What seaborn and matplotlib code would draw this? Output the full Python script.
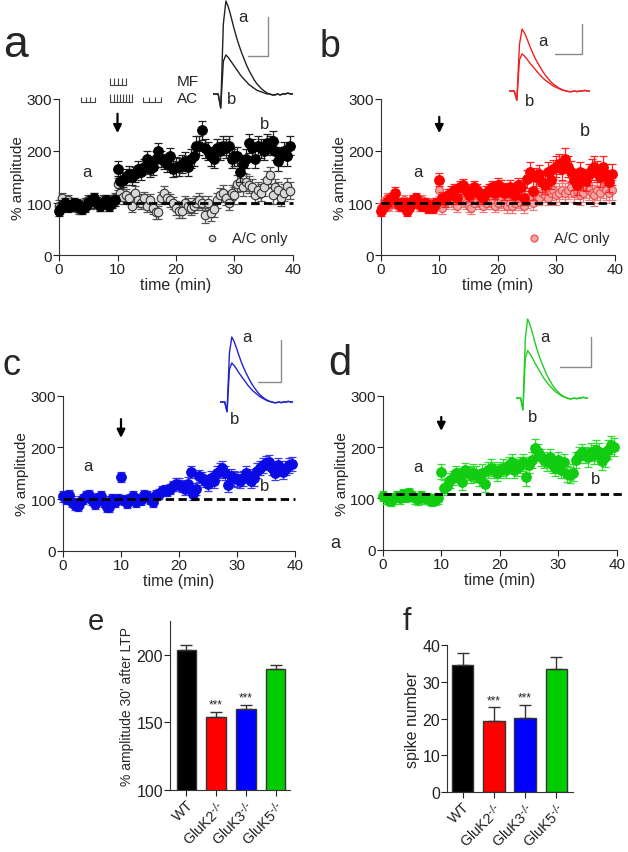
import numpy as np
import matplotlib
matplotlib.use("Agg")
import matplotlib.pyplot as plt
from matplotlib.lines import Line2D
import seaborn as sns

# time points (min)
minutes = [0.0, 0.5, 1.0, 1.5, 2.0, 2.5, 3.0, 3.5, 4.0, 4.5,
           5.0, 5.5, 6.0, 6.5, 7.0, 7.5, 8.0, 8.5, 9.0, 9.5,
           10.0, 10.5, 11.0, 11.5, 12.0, 12.5, 13.0, 13.5, 14.0, 14.5,
           15.0, 15.5, 16.0, 16.5, 17.0, 17.5, 18.0, 18.5, 19.0, 19.5,
           20.0, 20.5, 21.0, 21.5, 22.0, 22.5, 23.0, 23.5, 24.0, 24.5,
           25.0, 25.5, 26.0, 26.5, 27.0, 27.5, 28.0, 28.5, 29.0, 29.5,
           30.0, 30.5, 31.0, 31.5, 32.0, 32.5, 33.0, 33.5, 34.0, 34.5,
           35.0, 35.5, 36.0, 36.5, 37.0, 37.5, 38.0, 38.5, 39.0, 39.5]

# panel a: WT, MF+AC pairing vs A/C only
wt_mf = [85, 95, 100, 92, 95, 100, 98, 93, 88, 92, 100, 105, 110, 100, 95, 100, 105, 95, 100, 105,
         166, 143, 145, 150, 156, 150, 155, 165, 160, 170, 185, 165, 169, 185, 200, 185, 180, 175, 190, 165,
         170, 169, 175, 180, 170, 185, 190, 210, 210, 240, 205, 200, 190, 185, 205, 200, 210, 205, 210, 185,
         190, 190, 159, 175, 185, 215, 205, 185, 210, 205, 200, 215, 210, 220, 200, 180, 190, 200, 190, 210]
wt_ac = [95, 110, 100, 105, 95, 100, 92, 88, 95, 100, 105, 98, 110, 100, 95, 105, 100, 95, 105, 110,
         137, 120, 111, 115, 110, 95, 120, 105, 100, 110, 95, 105, 90, 82, 82, 110, 120, 110, 105, 100,
         90, 85, 85, 100, 95, 90, 95, 100, 105, 100, 76, 100, 80, 88, 105, 115, 120, 110, 100, 120,
         115, 137, 140, 130, 140, 135, 130, 115, 125, 120, 130, 145, 153, 115, 130, 125, 110, 120, 133, 124]
wt_mf_sem = [10, 10, 15, 15, 18, 18, 18, 18]
wt_ac_sem = [10, 10, 12, 12, 14, 14, 16, 16]

# panel b: GluK2-/-
k2_mf = [85, 95, 100, 105, 110, 120, 100, 95, 100, 85, 95, 105, 110, 100, 95, 100, 90, 95, 90, 100,
         145, 110, 105, 115, 120, 125, 110, 130, 135, 125, 115, 120, 130, 125, 115, 110, 120, 125, 130, 120,
         135, 130, 120, 125, 130, 120, 115, 135, 130, 110, 146, 160, 124, 150, 155, 140, 135, 160, 145, 165,
         170, 175, 165, 185, 170, 160, 145, 135, 159, 145, 143, 155, 165, 170, 160, 150, 170, 155, 141, 155]
k2_ac = [90, 100, 110, 95, 100, 105, 95, 100, 105, 95, 100, 105, 100, 95, 105, 100, 95, 100, 95, 100,
         125, 90, 100, 105, 110, 100, 95, 105, 110, 100, 95, 90, 100, 105, 100, 95, 100, 105, 100, 95,
         100, 105, 100, 95, 100, 95, 100, 105, 100, 95, 105, 110, 100, 115, 110, 120, 115, 110, 120, 125,
         115, 120, 125, 120, 125, 130, 120, 125, 115, 120, 130, 125, 120, 115, 125, 120, 130, 125, 120, 125]
k2_mf_sem = [10, 10, 12, 12, 14, 18, 20, 20]
k2_ac_sem = [10, 10, 12, 12, 14, 14, 18, 20]

# panel c: GluK3-/-
k3_mf = [105, 100, 108, 95, 88, 87, 95, 100, 105, 108, 98, 90, 102, 105, 95, 85, 84, 100, 95, 100,
         143, 98, 92, 100, 105, 95, 100, 98, 108, 105, 100, 95, 108, 110, 115, 118, 115, 120, 125, 130,
         128, 125, 120, 130, 152, 110, 120, 145, 140, 135, 130, 140, 135, 150, 155, 160, 150, 128, 145, 140,
         138, 135, 140, 150, 145, 135, 140, 155, 160, 165, 170, 172, 160, 150, 165, 160, 152, 160, 165, 168]
k3_mf_sem = [10, 10, 10, 10, 12, 14, 14, 14]

# panel d: GluK5-/-
k5_mf = [105, 100, 97, 95, 100, 105, 100, 108, 102, 110, 105, 100, 98, 105, 100, 100, 98, 95, 97, 100,
         152, 121, 125, 135, 140, 150, 145, 131, 155, 150, 145, 150, 148, 140, 150, 128, 155, 160, 155, 150,
         155, 160, 155, 165, 170, 155, 160, 165, 170, 141, 165, 175, 199, 190, 180, 175, 170, 180, 165, 160,
         175, 155, 170, 147, 145, 150, 175, 185, 190, 185, 180, 190, 185, 195, 190, 173, 180, 195, 204, 200]
k5_mf_sem = [10, 10, 14, 16, 16, 16, 16, 18]

# example EPSC traces (normalised)
trace_before = [0, 0, 0, -0.15, 0.75, 1.0, 0.93, 0.83, 0.72, 0.62, 0.53, 0.45, 0.38, 0.31, 0.25, 0.2,
                0.15, 0.11, 0.08, 0.05, 0.03, 0.01, 0.0, -0.01, -0.01, 0.0, -0.01, 0.0, 0.0, 0.01, 0.0, 0.0]
trace_after_wt = [0, 0, 0, -0.15, 0.35, 0.42, 0.39, 0.35, 0.31, 0.27, 0.23, 0.19, 0.16, 0.13, 0.1, 0.08,
                  0.06, 0.04, 0.03, 0.02, 0.01, 0.0, 0.0, -0.01, -0.01, 0.0, -0.01, 0.0, 0.0, 0.01, 0.0, 0.0]
trace_after_ko = [0, 0, 0, -0.15, 0.5, 0.6, 0.56, 0.51, 0.45, 0.4, 0.35, 0.3, 0.25, 0.21, 0.17, 0.14,
                  0.11, 0.08, 0.06, 0.04, 0.02, 0.01, 0.0, -0.01, -0.01, 0.0, -0.01, 0.0, 0.0, 0.01, 0.0, 0.0]

# bar panels e, f
genotypes = ["WT", r"GluK2$^{\text{-/-}}$", r"GluK3$^{\text{-/-}}$", r"GluK5$^{\text{-/-}}$"]
bar_colors = ["#000000", "#ff0000", "#0000ff", "#00cc00"]
ltp_30 = [203, 154, 160, 189]
ltp_30_sem = [4, 3.5, 2.5, 3.5]
spikes = [34.5, 19.3, 20.1, 33.6]
spikes_sem = [3.2, 3.7, 3.7, 3.0]
signif = ["", "***", "***", ""]

sns.set_style("ticks")
plt.rcParams["font.family"] = ["Liberation Sans", "DejaVu Sans"]
plt.rcParams["axes.edgecolor"] = "#333333"
plt.rcParams["mathtext.default"] = "regular"

W, H = 628, 853
fig = plt.figure(figsize=(6.28, 8.53), dpi=100)


def box(left, top, right, bottom):
    return [left / W, 1 - bottom / H, (right - left) / W, (bottom - top) / H]


def fig_line(xs, ys, color="#8a8a8a", lw=1.0):
    fig.add_artist(Line2D([x / W for x in xs], [1 - y / H for y in ys], color=color, lw=lw))


def fig_text(x, y, s, size=11, **kw):
    fig.text(x / W, 1 - y / H, s, fontsize=size, ha="center", va="center", **kw)


def setup_course(ax, baseline=100, dash_end=40):
    ax.set_xlim(0, 40)
    ax.set_ylim(0, 300)
    ax.set_xticks([0, 10, 20, 30, 40])
    ax.set_yticks([0, 100, 200, 300])
    ax.set_xlabel("time (min)", fontsize=11.5, labelpad=1)
    ax.set_ylabel("% amplitude", fontsize=11, labelpad=1)
    ax.tick_params(length=4, width=0.8, labelsize=11, pad=1, colors="#222222")
    sns.despine(ax=ax)
    ax.plot([0, dash_end], [baseline, baseline], color="k", lw=2, ls=(0, (3, 1.6)),
            zorder=10, clip_on=False)


def series(ax, values, sem_blocks, face, edge, ecol, size, z, lw=0.8):
    err = np.repeat(sem_blocks, 10)
    ax.errorbar(minutes, values, yerr=err, fmt="none", ecolor=ecol, elinewidth=0.9,
                capsize=3, capthick=0.9, zorder=z, clip_on=False)
    sns.scatterplot(x=minutes, y=values, ax=ax, color=face, edgecolor=edge, s=size,
                    linewidth=lw, zorder=z + 0.5, clip_on=False)
    return ax.collections[-1]


def arrow(ax, top, bottom):
    ax.annotate("", xy=(10, bottom), xytext=(10, top),
                arrowprops=dict(arrowstyle="-|>", color="k", lw=1.6, mutation_scale=12))


def inset(left, top, right, bottom, after, color):
    iax = fig.add_axes(box(left, top, right, bottom))
    iax.plot(trace_before, color=color, lw=1)
    iax.plot(after, color=color, lw=1)
    iax.set_xlim(0, 31)
    iax.set_ylim(-0.2, 1.02)
    iax.axis("off")


# ---------- panel a ----------
ax = fig.add_axes(box(59, 100, 293, 256))
setup_course(ax)
h_ac = series(ax, wt_ac, wt_ac_sem, "#d8d8d8", "#333333", "#555555", 38, 3)
series(ax, wt_mf, wt_mf_sem, "#000000", "#000000", "#222222", 48, 4)
ax.legend(handles=[h_ac], labels=["A/C only"], loc="lower right", bbox_to_anchor=(1.02, 0.0),
          frameon=False, fontsize=10.5, handletextpad=0.4, borderpad=0.2, markerscale=0.75)
arrow(ax, 277, 229)
ax.text(4.8, 160, "a", fontsize=12, ha="center", va="center")
ax.text(35.2, 252, "b", fontsize=12, ha="center", va="center")
# stimulation scheme
for start, stop, n, y0, h in [(3.8, 6.1, 4, 295, 9), (8.8, 12.5, 8, 295, 14),
                              (14.4, 17.5, 4, 295, 9), (8.8, 11.5, 5, 327, 14)]:
    ticks = np.linspace(start, stop, n)
    ax.vlines(ticks, y0, y0 + h, color="#444444", lw=0.8, clip_on=False)
    ax.plot([start, stop], [y0, y0], color="#444444", lw=0.8, clip_on=False)
ax.text(20.2, 335, "MF", fontsize=11, va="center", ha="left")
ax.text(20.2, 301, "AC", fontsize=11, va="center", ha="left")
inset(213, 0.1, 293, 113.6, trace_after_wt, "#222222")
fig_line([268, 268, 248], [18, 57, 57])
fig_text(243, 18, "a", size=12)
fig_text(232, 100, "b", size=12)
fig.text(3 / W, 1 - 57 / H, "a", fontsize=32, va="baseline")

# ---------- panel b ----------
ax = fig.add_axes(box(380.7, 100, 615, 256))
setup_course(ax)
h_ac = series(ax, k2_ac, k2_ac_sem, "#f5a3a3", "#e84a4a", "#f07a7a", 32, 3)
series(ax, k2_mf, k2_mf_sem, "#ff0000", "#ff0000", "#ff2020", 48, 4)
ax.legend(handles=[h_ac], labels=["A/C only"], loc="lower right", bbox_to_anchor=(1.02, 0.0),
          frameon=False, fontsize=10.5, handletextpad=0.4, borderpad=0.2, markerscale=0.9)
arrow(ax, 271, 229)
ax.text(6.4, 160, "a", fontsize=12, ha="center", va="center")
ax.text(34.8, 239, "b", fontsize=13, ha="center", va="center")
inset(509, 28.8, 590, 104.4, trace_after_ko, "#ee2222")
fig_line([582, 582, 555], [25, 55, 55])
fig_text(543, 42, "a", size=12)
fig_text(530, 101, "b", size=12)
fig.text(320 / W, 1 - 57 / H, "b", fontsize=27, va="baseline")

# ---------- panel c ----------
ax = fig.add_axes(box(63, 396.7, 295, 551.7))
setup_course(ax)
series(ax, k3_mf, k3_mf_sem, "#0a0ae6", "#0a0ae6", "#3a3ae6", 48, 4)
arrow(ax, 260, 213)
ax.text(4.3, 165, "a", fontsize=12, ha="center", va="center")
ax.text(34.8, 126, "b", fontsize=12, ha="center", va="center")
inset(220, 336.7, 293, 416, trace_after_ko, "#2222cc")
fig_line([281, 281, 258], [341, 383, 383])
fig_text(247, 337, "a", size=12)
fig_text(235, 420, "b", size=12)
fig.text(2 / W, 1 - 375 / H, "c", fontsize=26, va="baseline")

# ---------- panel d ----------
ax = fig.add_axes(box(382.7, 396.7, 617, 550.7))
setup_course(ax, baseline=108, dash_end=41)
series(ax, k5_mf, k5_mf_sem, "#11cc11", "#11cc11", "#33dd33", 48, 4)
arrow(ax, 264, 226)
ax.text(6.1, 162, "a", fontsize=12, ha="center", va="center")
ax.text(36.4, 139, "b", fontsize=12, ha="center", va="center")
inset(516, 318.4, 588, 414.8, trace_after_ko, "#22cc22")
fig_line([591, 591, 560], [338, 368, 368])
fig_text(545, 337, "a", size=12)
fig_text(533, 418, "b", size=12)
fig_text(335, 543, "a", size=13)
fig.text(328 / W, 1 - 375 / H, "d", fontsize=30, va="baseline")


# ---------- bar panels ----------
def bars(ax, values, sems, ylim, yticks, ylabel, ylabel_size, width, xlim):
    sns.barplot(x=genotypes, y=values, hue=genotypes, palette=bar_colors, legend=False,
                ax=ax, width=width, edgecolor="#333333", linewidth=1, saturation=1)
    ax.errorbar(range(len(values)), values, yerr=[[0] * len(values), sems], fmt="none",
                ecolor="#333333", elinewidth=1, capsize=4, capthick=1)
    for i, (v, s, star) in enumerate(zip(values, sems, signif)):
        if star:
            ax.text(i, v + s + (ylim[1] - ylim[0]) * 0.01, star, ha="center", va="bottom", fontsize=8.5)
    ax.set_ylim(*ylim)
    ax.set_xlim(*xlim)
    ax.set_yticks(yticks)
    ax.set_ylabel(ylabel, fontsize=ylabel_size, labelpad=2)
    ax.set_xlabel("")
    ax.tick_params(length=4, width=0.8, labelsize=11.5, pad=1, colors="#222222")
    ax.set_xticks(range(len(values)))
    ax.set_xticklabels(genotypes, rotation=45, ha="right", rotation_mode="anchor", fontsize=10.5)
    sns.despine(ax=ax)


ax = fig.add_axes(box(170, 621.7, 290, 791))
bars(ax, ltp_30, ltp_30_sem, (100, 225), [100, 150, 200], "% amplitude 30' after LTP", 10,
     0.65, (-0.55, 3.48))
fig.text(88 / W, 1 - 630 / H, "e", fontsize=21, va="baseline")

ax = fig.add_axes(box(447.3, 646, 573, 793))
bars(ax, spikes, spikes_sem, (0, 40), [0, 10, 20, 30, 40], "spike number", 11.5,
     0.69, (-0.49, 3.53))
fig.text(403 / W, 1 - 630 / H, "f", fontsize=22, va="baseline")

fig.savefig("out.png", dpi=100)
